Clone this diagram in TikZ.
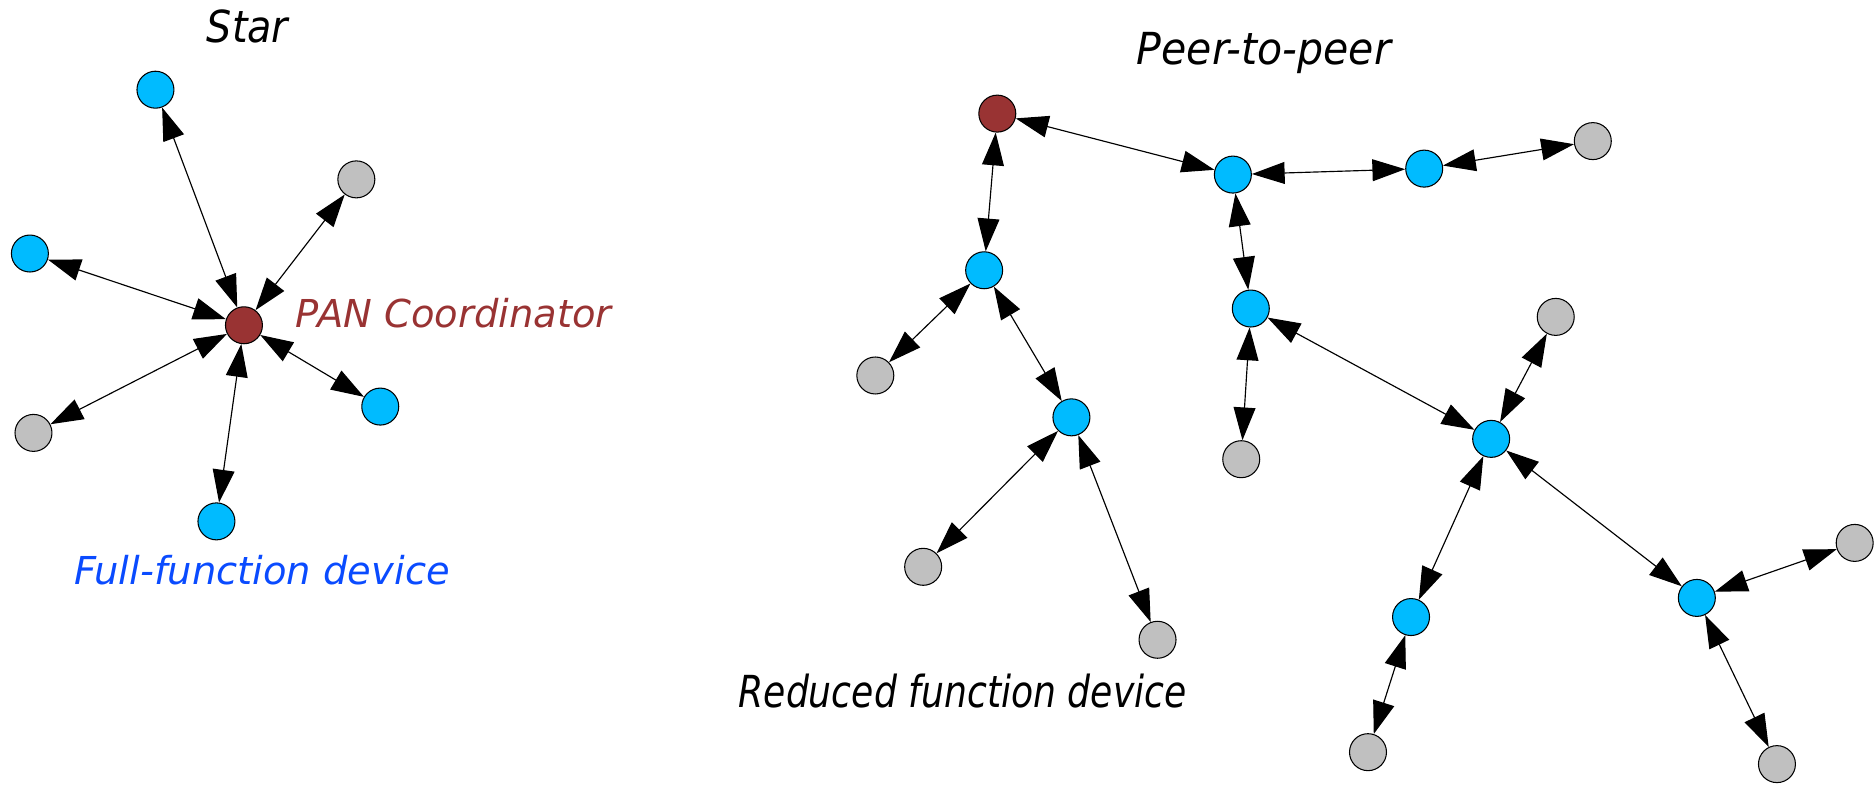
\documentclass[tikz,border=0pt]{standalone}
\usepackage{fontspec}
\setmainfont{DejaVu Sans}
\usepackage{xcolor}
\usepackage{tikz}
\usetikzlibrary{arrows.meta}
\definecolor{ffdblue}{HTML}{00BBFF}
\definecolor{rfdgrey}{HTML}{C0C0C0}
\definecolor{panred}{HTML}{993333}
\definecolor{ffdtext}{HTML}{0A4BFF}
\tikzset{
  dev/.style={circle, draw=black, line width=0.5pt, minimum size=17.6pt, inner sep=0pt},
  ffd/.style={dev, fill=ffdblue},
  rfd/.style={dev, fill=rfdgrey},
  pan/.style={dev, fill=panred},
  link/.style={{Triangle[length=15.6pt,width=10.4pt]}-{Triangle[length=15.6pt,width=10.4pt]}, line width=0.55pt},
  ttl/.style={text=black, font=\fontsize{21}{25}\selectfont\itshape, inner sep=0pt},
  lab/.style={font=\fontsize{18.3}{22}\selectfont\itshape, inner sep=0pt}
}
\begin{document}
\begin{tikzpicture}[x=0.02cm, y=-0.02cm]
  \useasboundingbox (0,0) rectangle (1568,657);
  % star
  \node[ttl] (startitle) at (207,22) {\scalebox{0.9}[1]{Star}};
  \node[pan] (span) at (204,272) {};
  \node[ffd] (s1) at (130,75) {};
  \node[rfd] (s2) at (298,150) {};
  \node[ffd] (s3) at (25,212) {};
  \node[rfd] (s4) at (28,362) {};
  \node[ffd] (s5) at (318,340) {};
  \node[ffd] (s6) at (181,436) {};
  \draw[link] (span) -- (s1);
  \draw[link] (span) -- (s2);
  \draw[link] (span) -- (s3);
  \draw[link] (span) -- (s4);
  \draw[link] (span) -- (s5);
  \draw[link] (span) -- (s6);
  \node[lab, text=panred, anchor=west] (panlab) at (247,262) {PAN Coordinator};
  \node[lab, text=ffdtext] (ffdlab) at (219,477) {Full-function device};
  % peer-to-peer
  \node[ttl] (p2ptitle) at (1057,44) {\scalebox{0.93}[1]{Peer-to-peer}};
  \node[pan] (ppan) at (834,95) {};
  \node[ffd] (pa) at (1031,146) {};
  \node[ffd] (pb) at (1191,141) {};
  \node[rfd] (pc) at (1332,118) {};
  \node[ffd] (pd) at (823,226) {};
  \node[rfd] (pe) at (732,314) {};
  \node[ffd] (pf) at (1046,258) {};
  \node[rfd] (pg) at (1038,384) {};
  \node[ffd] (ph) at (896,349) {};
  \node[rfd] (pi) at (772,474) {};
  \node[rfd] (pj) at (968,535) {};
  \node[rfd] (pk) at (1301,265) {};
  \node[ffd] (pl) at (1247,367) {};
  \node[ffd] (pm) at (1180,516) {};
  \node[rfd] (pn) at (1144,629) {};
  \node[ffd] (po) at (1419,500) {};
  \node[rfd] (pp) at (1551,454) {};
  \node[rfd] (pq) at (1486,639) {};
  \draw[link] (ppan) -- (pa);
  \draw[link] (pa) -- (pb);
  \draw[link] (pb) -- (pc);
  \draw[link] (ppan) -- (pd);
  \draw[link] (pd) -- (pe);
  \draw[link] (pd) -- (ph);
  \draw[link] (ph) -- (pi);
  \draw[link] (ph) -- (pj);
  \draw[link] (pa) -- (pf);
  \draw[link] (pf) -- (pg);
  \draw[link] (pf) -- (pl);
  \draw[link] (pl) -- (pk);
  \draw[link] (pl) -- (pm);
  \draw[link] (pm) -- (pn);
  \draw[link] (pl) -- (po);
  \draw[link] (po) -- (pp);
  \draw[link] (po) -- (pq);
  \node[ttl, text=black] (rfdlab) at (805,578) {\scalebox{0.82}[1]{Reduced function device}};
\end{tikzpicture}
\end{document}
